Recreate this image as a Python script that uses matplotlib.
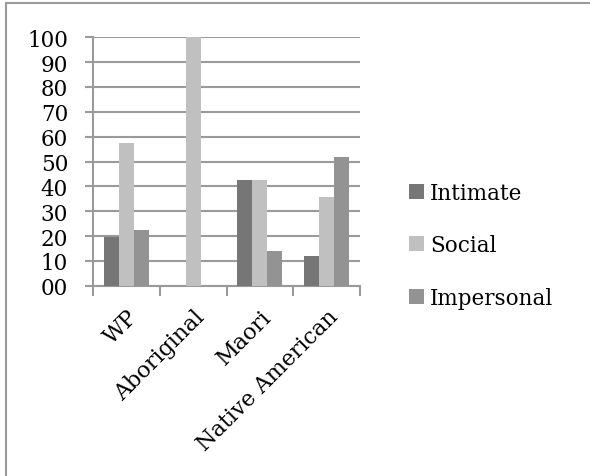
import numpy as np
import matplotlib.pyplot as plt
from matplotlib.lines import Line2D
from matplotlib.ticker import FuncFormatter

# Share of each distance category per group [%]
groups = ['WP', 'Aboriginal', 'Maori', 'Native American']
series = ['Intimate', 'Social', 'Impersonal']
intimate = [19.5, 0, 42.7, 11.8]
social = [57.4, 100, 42.7, 35.8]
impersonal = [22.4, 0, 14.1, 51.7]
colors = ['#767676', '#c0c0c0', '#939393']

plt.rcParams['font.family'] = ['DejaVu Serif']

fig = plt.figure(figsize=(5.9, 4.77), dpi=100)
W, H = 590, 477
ax = fig.add_axes([93 / W, 1 - 286.7 / H, (360 - 93) / W, (286.7 - 38.3) / H])

x = np.arange(len(groups))
width = 0.225
for k, (vals, name, c) in enumerate(zip([intimate, social, impersonal], series, colors)):
    ax.bar(x + (k - 1) * width, vals, width, color=c, label=name, zorder=3)

ax.set_xlim(-0.5, len(groups) - 0.5)
ax.set_ylim(0, 100)
ax.set_yticks(np.arange(0, 101, 10))
ax.yaxis.set_major_formatter(FuncFormatter(lambda v, p: f'{int(v):02d}'))
ax.grid(axis='y', color='#9a9a9a', linewidth=1.5, zorder=0)

# category boundaries for x tick marks
ax.set_xticks(np.arange(-0.5, len(groups)), minor=False)
ax.set_xticklabels([])
ax.set_xticks(x, minor=True)
ax.set_xticklabels(groups, minor=True, rotation=45, ha='right', va='top',
                   rotation_mode='anchor', fontsize=16)
ax.tick_params(axis='x', which='minor', length=0, pad=14)
ax.tick_params(axis='x', which='major', length=7, width=1.5, color='#9a9a9a')
ax.tick_params(axis='y', length=6, width=1.5, color='#9a9a9a', labelsize=15.5, pad=12)

for side in ['top', 'right']:
    ax.spines[side].set_visible(False)
for side in ['left', 'bottom']:
    ax.spines[side].set_color('#9a9a9a')
    ax.spines[side].set_linewidth(1.5)

leg = fig.legend(loc='upper left', bbox_to_anchor=(400 / W, 1 - 174 / H), frameon=False,
                 fontsize=15.5, handlelength=0.7, handleheight=0.7, handletextpad=0.3,
                 labelspacing=1.42, borderaxespad=0)

# outer chart frame
fig.add_artist(Line2D([6 / W, 1], [1 - 4 / H, 1 - 4 / H], color='#9a9a9a', lw=1.5))
fig.add_artist(Line2D([6 / W, 6 / W], [0, 1 - 4 / H], color='#9a9a9a', lw=1.5))

fig.savefig('out.png', dpi=100)
